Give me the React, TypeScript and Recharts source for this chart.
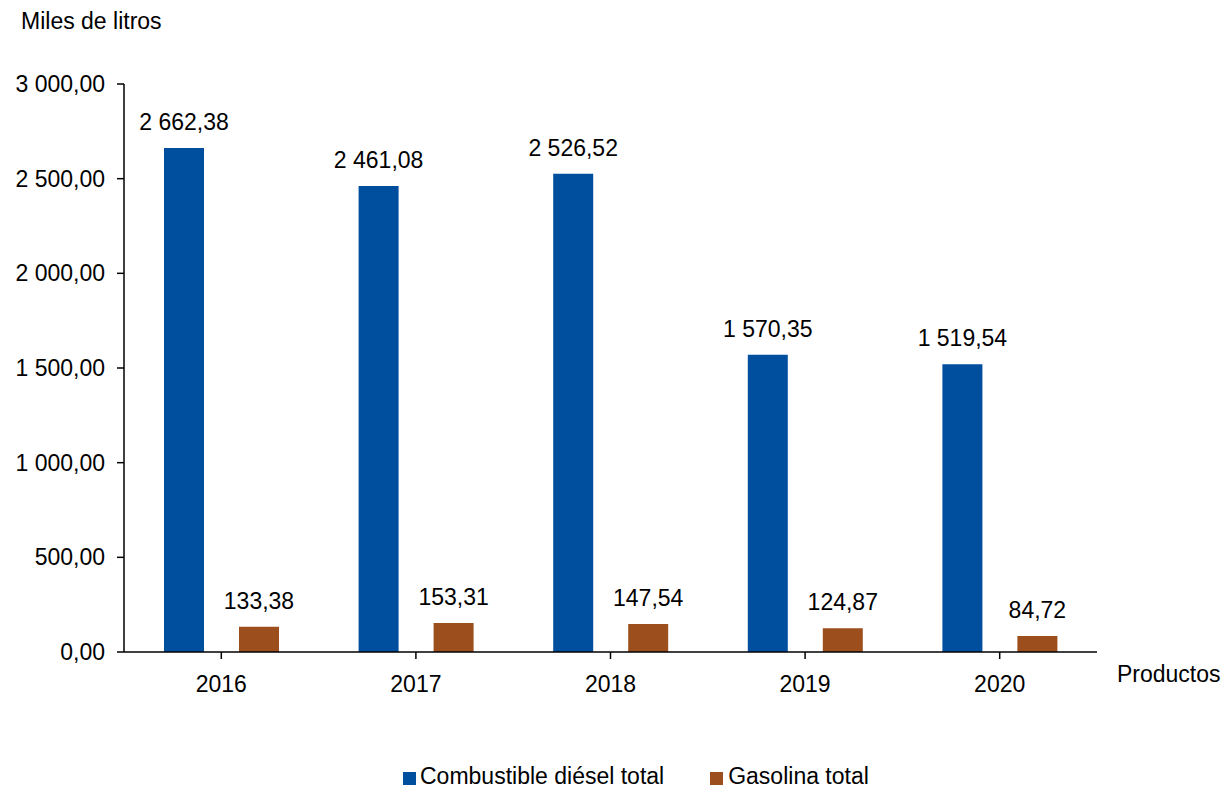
import React from 'react';
import { BarChart, Bar, XAxis, YAxis, LabelList } from 'recharts';

const years = ['2016', '2017', '2018', '2019', '2020'];
const diesel = [2662.38, 2461.08, 2526.52, 1570.35, 1519.54];
const gasolina = [133.38, 153.31, 147.54, 124.87, 84.72];
const yTicks = [0, 500, 1000, 1500, 2000, 2500, 3000];

const BLUE = '#004F9E';
const BROWN = '#9C4E1C';
const FONT = 'Arial, "Liberation Sans", sans-serif';

const data = years.map((year, i) => ({ year, diesel: diesel[i], gasolina: gasolina[i] }));

// 2 662,38 style numbers (non-breaking space so labels don't wrap)
const fmt = (v: number) => {
  const [int, dec] = Number(v).toFixed(2).split('.');
  return int.replace(/\B(?=(\d{3})+(?!\d))/g, '\u00A0') + ',' + dec;
};

const axisStyle = { stroke: '#000', strokeWidth: 1.5 };
const tickStyle = { fill: '#000', fontSize: 23, fontFamily: FONT };

const App: React.FC = () => {
  return (
    <div style={{ position: 'absolute', left: 0, top: 0, width: 1228, height: 788, background: '#fff', fontFamily: FONT }}>
      <BarChart
        width={1228}
        height={788}
        data={data}
        margin={{ top: 84, right: 131, left: 0, bottom: 106 }}
        barSize={40}
        barGap={35}
      >
        <XAxis
          dataKey="year"
          height={30}
          tick={tickStyle}
          axisLine={axisStyle}
          tickLine={axisStyle}
          tickSize={7}
          tickMargin={17}
        />
        <YAxis
          width={124}
          domain={[0, 3000]}
          ticks={yTicks}
          tickFormatter={fmt}
          tick={tickStyle}
          axisLine={axisStyle}
          tickLine={axisStyle}
          tickSize={7}
          tickMargin={12}
        />
        <Bar dataKey="diesel" name="Combustible diésel total" fill={BLUE} isAnimationActive={false}>
          <LabelList dataKey="diesel" position="top" offset={18} formatter={fmt} style={tickStyle} />
        </Bar>
        <Bar dataKey="gasolina" name="Gasolina total" fill={BROWN} isAnimationActive={false}>
          <LabelList dataKey="gasolina" position="top" offset={18} formatter={fmt} style={tickStyle} />
        </Bar>
      </BarChart>
      <div style={{ position: 'absolute', left: 21, top: 10, fontSize: 23, lineHeight: '23px', color: '#000' }}>Miles de litros</div>
      <div style={{ position: 'absolute', left: 1117, top: 663, fontSize: 23, lineHeight: '23px', color: '#000' }}>Productos</div>
      <div style={{ position: 'absolute', left: 403, top: 765, display: 'flex', alignItems: 'center', fontSize: 23, lineHeight: '23px', color: '#000' }}>
        <span style={{ width: 13, height: 13, background: BLUE, display: 'inline-block', marginRight: 4, marginTop: 4 }} />
        <span>Combustible diésel total</span>
        <span style={{ width: 13, height: 13, background: BROWN, display: 'inline-block', marginLeft: 46, marginRight: 5, marginTop: 4 }} />
        <span>Gasolina total</span>
      </div>
    </div>
  );
};

export default App;
